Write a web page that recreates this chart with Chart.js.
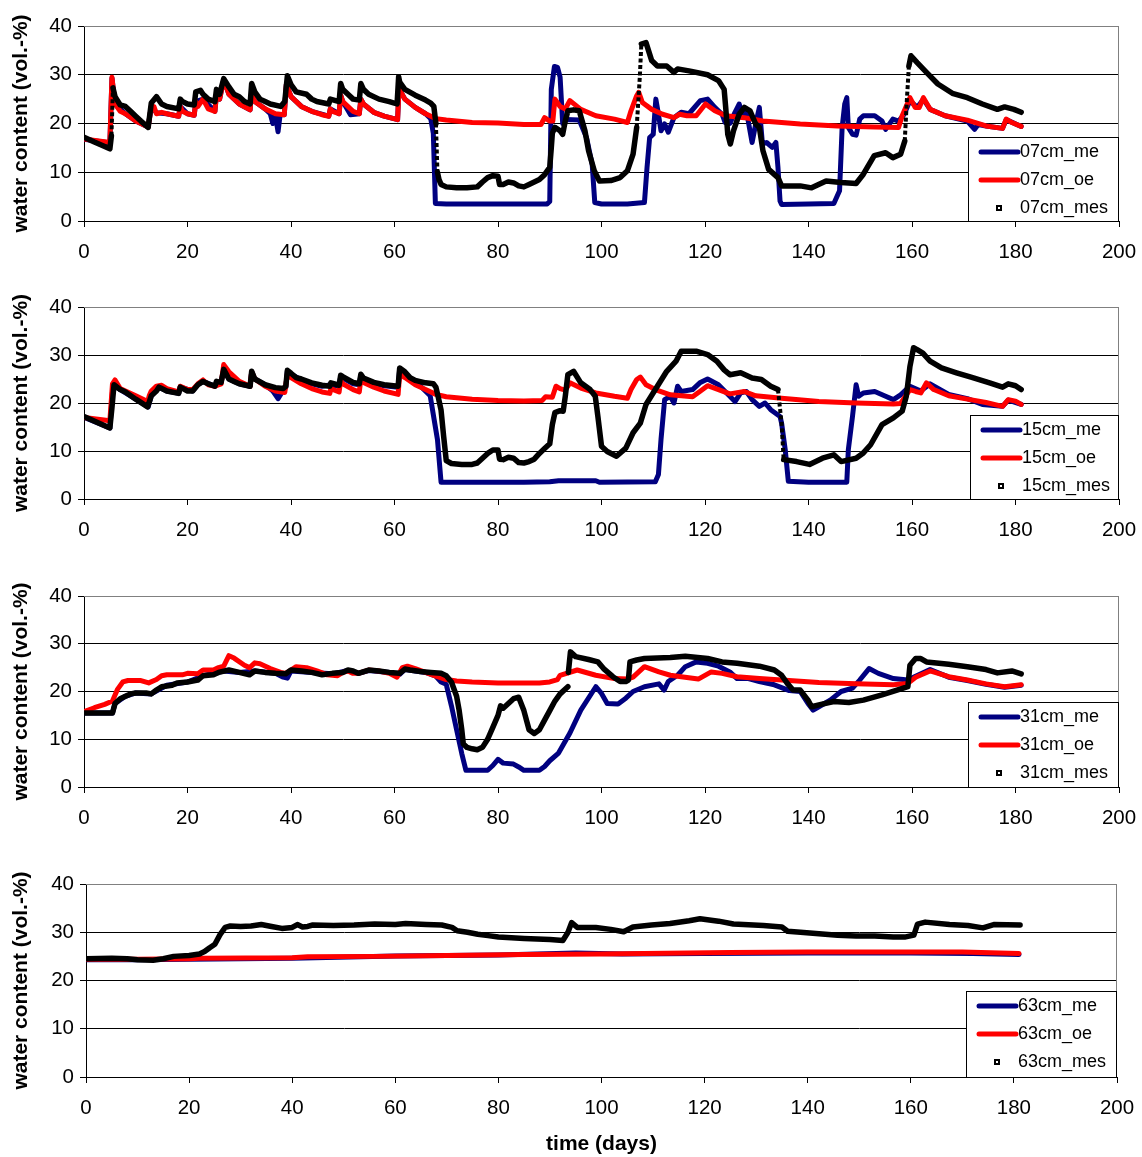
<!DOCTYPE html>
<html>
<head>
<meta charset="utf-8">
<title>water content</title>
<script src="https://cdn.jsdelivr.net/npm/chart.js@4.4.1/dist/chart.umd.min.js"></script>
<style>
  body { margin: 0; background: #fff; }
  canvas { position: absolute; left: 0; }
</style>
</head>
<body>
<canvas id="c07"></canvas>
<canvas id="c15"></canvas>
<canvas id="c31"></canvas>
<canvas id="c63"></canvas>
<script>
// [day, water content] pairs per depth: me = blue, oe = red, mes = measured (black)
const me07 = [[0,16.8],[5,16],[5.4,29.3],[6,24],[8,22],[10,20.5],[12.4,19.3],[13,23.5],[14,22.2],[16,22],[18.3,21.5],[18.6,23.5],[20,22],[21.3,21.7],[21.6,24.5],[23,25],[25.3,22.5],[25.6,26],[26.2,25],[27,29],[28,26],[30,24],[32.1,22.8],[32.4,26.5],[33,24.5],[35,23],[36,22],[36.5,20],[37,21.5],[37.5,18.3],[37.9,21.8],[38.7,21.8],[39.1,28],[40,25.5],[42,23.5],[44,22.5],[47.3,21.5],[47.6,23],[49.3,22],[49.6,25.8],[50,24.5],[51.5,21.8],[53.2,22],[53.5,25],[54,24],[56,22.3],[58,21.5],[60.6,20.8],[60.9,28],[61.2,26.5],[62,25],[64,23.3],[66,22],[67,21],[67.5,18],[67.9,3.6],[70,3.5],[80,3.5],[89.5,3.5],[90,4],[90.3,27],[90.9,31.7],[91.5,31.5],[92,29.5],[92.5,20],[93.2,20.8],[95.7,20.7],[97.1,17.1],[98.2,11.6],[98.7,3.8],[100,3.5],[105,3.5],[108.3,3.8],[108.8,11],[109.3,17.1],[110,17.8],[110.5,25],[110.9,22.6],[111.5,18.5],[112.2,19.9],[112.9,18.2],[114,21.2],[115.4,22.3],[116.9,22],[119.1,24.7],[120.5,25],[121.9,23.3],[123.3,21.9],[123.9,20.2],[124.8,20],[125.8,22.3],[126.6,24],[127.3,21.6],[128,22.6],[129.1,16.1],[129.8,19.9],[130.5,23.3],[131.1,15.8],[131.9,16.1],[133,15.1],[133.7,16.1],[134.1,11],[134.5,4.1],[134.8,3.4],[140,3.5],[144.9,3.6],[146,6.2],[146.5,19.2],[147,24],[147.4,25.3],[147.7,19.2],[148.5,17.8],[149.2,17.6],[149.9,20.9],[150.6,21.6],[152.8,21.6],[154.2,20.5],[154.9,18.8],[156.3,20.9],[157.4,20.5],[158.5,21.9],[159.6,24.7],[161,23.3],[162.2,25],[163.5,22.9],[166.4,21.6],[170.7,20.5],[172.1,18.8],[172.8,19.8],[174.3,19.5],[177.5,19],[178.2,20.8],[181.1,19.4]];
const oe07 = [[0,16.8],[5,16.1],[5.4,29.5],[6,24],[7,22.5],[8,22],[10,20.5],[12.4,19.3],[13,23.5],[13.5,23.5],[14,22],[15,22.3],[16,22],[18.3,21.5],[18.6,23.5],[19,22.5],[20,22],[21.3,21.7],[21.6,24.5],[22,23.5],[23,25],[24,23],[25.3,22.5],[25.6,26],[26.2,25],[27,29],[28,26],[30,24],[32.1,22.8],[32.4,26.5],[33,24.5],[35,23],[37,22],[38.7,21.8],[39.1,28],[40,25.5],[42,23.5],[44,22.5],[46,21.8],[47.3,21.5],[47.6,23],[48,22.5],[49.3,22],[49.6,25.8],[50,24.5],[52,22.5],[53.2,22],[53.5,25],[54,24],[56,22.3],[58,21.5],[60.6,20.8],[60.9,28],[61.2,26.5],[62,25],[64,23.3],[66,22],[68,21],[70,20.7],[75,20.2],[80,20.1],[85,19.8],[88.3,19.8],[89,21.2],[90,20.5],[90.6,20.5],[91,25],[92,23.5],[93,23],[93.9,24.7],[96,22.9],[98.9,21.6],[102.5,20.9],[105,20.2],[105.7,22.6],[106.8,25.7],[107.2,26.4],[107.9,24.3],[109.7,22.9],[111.8,21.9],[114,21.2],[115.1,21.9],[116.5,21.6],[118.3,21.6],[120.1,24],[121.9,22.6],[124,21.6],[127.6,21.2],[131.2,20.5],[138.4,19.9],[145.6,19.5],[152.8,19.3],[157.4,19.2],[158.1,21.6],[159.6,25.3],[160.6,23.3],[161.4,23.3],[162.2,25.3],[163.5,22.9],[166.4,21.6],[170.7,20.7],[174.3,19.5],[177.5,19],[178.2,20.9],[179.3,20.2],[181.1,19.4]];
const mes07 = [[0,17.2],[2,16.2],[4,15.3],[5,14.8],[5.3,17.5],[5.6,27.3],[6,25.5],[7,23.8],[8,23.5],[9,22.5],[10,21.5],[11,20.5],[12.4,19.2],[13,24.2],[14,25.5],[15,24],[16,23.5],[18.3,23],[18.6,25],[19,24.5],[20,24],[21.3,23.8],[21.6,26.5],[22.5,26.8],[23,26],[24,25],[25.3,24.5],[25.6,27],[26.2,26],[27,29.2],[28,27.5],[29,26],[30,25.5],[31,24.5],[32.1,24],[32.4,28.2],[33,26.5],[34,25],[35,24.5],[36,24],[38,23.5],[38.8,24.5],[39.3,29.8],[40,28],[41,26.5],[43,26],[44,25],[45,24.5],[47.3,24],[47.6,25],[49.3,24.5],[49.6,28.2],[50,27],[51,26],[52,25],[53.2,24.8],[53.5,28.2],[54,27],[55,26],[57,25],[59,24.5],[60.5,24],[60.8,29.6],[61,28.5],[62,27],[64,25.8],[66,24.8],[67,24.2],[67.6,23.5],[68,20],[68.3,10],[68.6,8.5],[69,7.5],[70,7],[72,6.8],[74,6.8],[76,7],[77,8],[78,8.9],[79,9.3],[80,9.2],[80.3,7.5],[81,7.5],[82,8],[83,7.8],[84,7.2],[85,7],[86,7.5],[87,8],[88,8.5],[89,9.5],[90,11],[90.3,15],[90.5,18],[91,19.2],[92,18.5],[92.5,17.8],[93,20.5],[93.5,22.6],[94.6,22.8],[95.7,22.6],[96.8,18.5],[97.5,14.4],[98.6,10.3],[99.6,8.2],[101.8,8.3],[103.6,8.9],[105,10.3],[106.1,13.7],[106.8,19.2],[107.4,29.5],[107.7,36.3],[108.6,36.6],[109.7,32.9],[110.8,31.8],[112.6,31.8],[114,30.5],[114.7,31.2],[116.9,30.8],[120.5,30],[122.6,28.8],[123.7,27],[124,23.3],[124.4,17.8],[124.9,15.8],[125.5,18.5],[126.6,21.9],[127.6,23.3],[128.7,22.6],[129.8,19.9],[130.5,19.2],[131.2,14.4],[132.3,10.6],[134.1,8.9],[134.8,7.2],[138.4,7.2],[140.6,6.8],[143.4,8.2],[146.3,7.9],[149.2,7.7],[150.6,9.6],[152.7,13.4],[154.9,14],[156.3,13],[157.8,13.7],[158.6,16.4],[159,24.7],[159.4,31.8],[159.8,33.9],[161,32.5],[162.8,30.5],[165,28.1],[167.8,26.2],[170.7,25.3],[173.6,24],[176.5,22.9],[177.9,23.4],[179.7,22.9],[181.1,22.3]];

const me15 = [[0,17],[5,14.8],[5.6,23.8],[7,22.8],[10,20.8],[12.4,19.2],[13,21.5],[14.5,23.3],[16,22.5],[18.3,22],[18.6,23.3],[21,22.5],[22,23.8],[23,24.5],[25.3,23.5],[26.5,24.3],[27,27],[28,25],[30,24],[32.1,23.5],[32.4,26.5],[33,25],[35,23.8],[36.5,22.5],[37.5,20.9],[38.3,22.3],[39,23.3],[39.3,26.6],[40,26],[42,24.8],[44,24],[46,23.5],[47.7,23.8],[49.3,23.5],[49.6,25.5],[50,25.2],[52,24],[53.2,23.8],[53.5,25.8],[54,25],[56,24.1],[58,23.6],[60.7,23.3],[61,27.1],[62,26.3],[63,25.2],[64,24.6],[66.9,21.5],[68.3,12.4],[69,3.5],[75,3.5],[80,3.5],[85,3.5],[90,3.6],[91.7,3.8],[98.9,3.8],[99.6,3.5],[110.4,3.6],[111,5.1],[111.5,12.4],[112.2,20.7],[113.3,21.4],[114,20],[114.7,23.5],[115.4,22.4],[117.6,22.8],[119,24.2],[120.5,25],[122.6,23.8],[124.8,21.4],[125.8,20.3],[126.9,22.1],[128,22.4],[129.1,20.7],[130.5,19.3],[131.6,20],[132.7,18.6],[134.5,17.2],[134.8,15.8],[135.5,10.3],[136.1,3.7],[140,3.5],[147.4,3.5],[147.7,10.3],[148.5,17.2],[149.2,23.8],[149.7,21.4],[150.6,22.1],[152.8,22.4],[154.9,21.4],[156.4,20.7],[157.8,21.7],[159.6,23.5],[161.7,22.5],[163.5,24],[167.1,21.8],[170.7,20.9],[173.6,19.7],[177.5,19.3],[178.6,20.6],[181.1,19.7]];
const oe15 = [[0,17],[5,16.3],[5.5,24],[6,24.8],[7,23],[8,22.5],[10,21.5],[12.3,20.3],[12.6,21.5],[13,22.5],[14,23.5],[15,23.7],[16,23],[18.3,22.3],[18.6,23.5],[20,22.8],[21,22.8],[22,24],[23,24.8],[24,23.8],[25.3,23.5],[26.5,24],[27,28],[28,26.5],[30,24.5],[32.1,23.5],[32.4,26.5],[33,25],[35,23.5],[37,22.5],[38.8,22.2],[39.3,26],[40,25.3],[42,24],[44,23],[46,22.3],[47.5,22],[47.7,23],[49.3,22.3],[49.6,24.7],[50,24],[52,22.8],[53.2,22.3],[53.5,25],[54,24.3],[56,23.3],[58,22.5],[60.7,21.8],[61,26],[62,25.3],[64,23.8],[66,22.8],[68,21.8],[70,21.3],[75,20.8],[80,20.5],[85,20.4],[88.5,20.5],[89.2,21.3],[90.5,21.2],[91.2,23.5],[92,23],[93,22.7],[93.9,24.2],[96,23.1],[98.9,22.1],[102.5,21.4],[105,21],[105.7,22.8],[106.8,24.9],[107.5,25.4],[108.6,23.8],[110.4,22.8],[113.3,21.7],[117.6,21.3],[119,22.4],[120.5,23.6],[122.6,22.8],[124.8,21.9],[127.6,22.4],[129.8,21.5],[134.8,21],[142,20.3],[149.2,20],[156.4,19.8],[157.8,19.9],[159.6,22.8],[160.7,22.4],[161.7,22.1],[162.8,24.2],[164.2,22.8],[167.1,21.5],[170.7,20.8],[174.3,20.1],[177.5,19.3],[178.6,20.7],[180,20.4],[181.1,19.7]];
const mes15 = [[0,17.2],[2.5,16],[5,14.8],[5.4,19],[5.8,23.8],[7,22.8],[8,22.3],[10,20.8],[12.3,19.2],[13,21.5],[14,22.5],[14.5,23.3],[16,22.5],[18.3,22],[18.6,23.3],[20,22.5],[21,22.5],[22,23.8],[23,24.5],[24,24],[25.3,23.5],[25.6,24.5],[26.5,24.3],[27,27],[28,25],[29,24.5],[30,24],[32.1,23.5],[32.4,26.6],[33,25],[35,23.8],[37,23.2],[38.5,23],[39,23.5],[39.3,26.8],[40,26.2],[41,25.3],[42,25],[44,24.2],[46,23.7],[47.5,23.5],[47.7,24.2],[49.3,23.7],[49.6,25.8],[50,25.5],[52,24.3],[53.2,24],[53.5,26],[54,25.2],[56,24.3],[58,23.8],[60.7,23.5],[61,27.3],[62,26.5],[63,25.3],[64,24.7],[66,24.2],[67.5,24],[68,23.3],[68.5,21],[69,18.5],[69.5,13],[70,8],[71,7.4],[73,7.2],[75,7.2],[76,7.5],[77,8.5],[78,9.5],[79,10.2],[80,10.2],[80.3,8.3],[81,8.2],[82,8.7],[83,8.5],[84,7.6],[85,7.5],[86,7.8],[87,8.3],[88,9.5],[89,10.5],[90,11.5],[90.5,15.5],[91,18],[92,18.4],[92.6,18.3],[93,21.4],[93.5,25.9],[94.6,26.6],[96,24.2],[97.8,22.8],[98.8,21.4],[99.3,17.2],[100,11],[101.1,9.9],[102.9,8.9],[104.7,10.6],[106.1,13.8],[107.5,15.8],[108.6,19.7],[110.4,22.8],[112.6,26.6],[114.4,28.7],[115.4,30.8],[118.3,30.8],[120.5,30.1],[122.3,28.7],[123.7,26.9],[124.8,25.9],[126.9,26.3],[129.1,25.2],[130.9,24.9],[132.7,23.5],[134.1,22.8],[134.8,15.8],[135.2,8.2],[137.7,7.8],[140.2,7.2],[142.7,8.5],[144.9,9.2],[146.3,7.8],[149.2,8.5],[150.6,9.6],[152,11.3],[154.2,15.5],[156.4,16.9],[158.1,18.3],[158.9,21.4],[159.6,27.6],[160.3,31.5],[161,31.1],[162.1,30.4],[163.5,28.7],[165.7,27.3],[168.6,26.3],[171.4,25.4],[175,24.2],[177.5,23.3],[178.6,24],[180,23.6],[181.1,22.8]];

const me31 = [[0,15.5],[5.5,15.5],[6,17.5],[8,19],[10,19.7],[13,19.5],[16,21.3],[20,22],[23,23.3],[27,24.3],[30,24],[33,24.3],[37,23.8],[38.5,23],[39.3,22.8],[40,24.3],[44,24],[48,23.7],[51,24.4],[53,23.8],[55,24.4],[59,24],[61,23.6],[62,24.6],[66,24],[68,23.2],[69,22],[70,21.5],[71,17],[72,12],[73,7],[73.8,3.5],[78,3.5],[79,4.5],[80,5.8],[81,5],[83,4.8],[84,4.2],[85,3.5],[88,3.5],[89,4.3],[90,5.5],[91.7,7.1],[93.9,11.3],[96,16.1],[98.9,21],[100,19.6],[101.1,17.5],[103.2,17.4],[104.7,18.6],[106.1,20],[108.3,21],[111.1,21.6],[112.1,20.3],[112.9,22.1],[114.7,23.4],[116.2,25.2],[118.3,26.2],[120.5,25.9],[122.6,25.3],[124.8,24.1],[126.2,22.7],[128.4,22.7],[130.5,22.1],[133.4,21.4],[136.3,20.2],[138.4,20],[139.9,17.5],[140.9,16.1],[142,16.8],[144.2,18.2],[146.3,20],[148.5,20.7],[149.9,22.4],[151.7,24.8],[153.5,23.8],[156.4,22.7],[159.2,22.4],[160.7,23.2],[163.5,24.6],[167.1,23],[170.7,22.3],[174.3,21.5],[177.9,20.9],[181.1,21.3]];
const oe31 = [[0,15.8],[2,16.6],[4,17.3],[5.5,18],[6.5,20.5],[7.5,22],[8.5,22.3],[11,22.3],[12.5,21.8],[14,22.5],[15,23.3],[16,23.5],[19,23.5],[20,23.8],[22,23.7],[23,24.5],[25,24.5],[26,25],[27,25.3],[28,27.5],[29,27],[31,25.5],[32,25],[33,26],[34,25.8],[36,24.8],[38,24],[39,23.8],[40,24.5],[41,25.2],[43,25],[45,24.3],[47,23.5],[49,23.3],[50,24],[51,24.3],[52,23.8],[53,23.8],[55,24.5],[57,24.3],[59,23.8],[60.5,23],[61.5,25],[62.5,25.3],[64,24.8],[66,24],[68,23.2],[70,22.5],[72,22.2],[75,22],[80,21.8],[85,21.8],[88,21.8],[90,22],[91.5,22.5],[92,23.4],[95.3,24.5],[98.9,23.4],[102.5,22.7],[105,22.6],[106.1,23],[108.3,25.2],[111.1,24.1],[113.3,23.4],[115.4,23.1],[118.7,22.6],[121.2,24.1],[123.3,23.8],[126.2,23.1],[130.5,22.7],[134.8,22.4],[142,21.9],[149.2,21.6],[156.4,21.4],[159.2,21.7],[160.7,23],[163.5,24.3],[167.1,23.1],[170.7,22.4],[174.3,21.6],[177.9,21],[181.1,21.4]];
const mes31 = [[0,15.5],[5.5,15.5],[6,17.5],[7,18.5],[8,19],[9,19.5],[10,19.7],[12,19.7],[13,19.5],[14,20.3],[15,21],[17,21.3],[18,21.8],[20,22],[22,22.4],[23,23.3],[25,23.5],[26,24],[28,24.5],[30,24],[32,23.5],[33,24.3],[35,24],[37,23.8],[39,23.7],[40,24.5],[42,24.3],[44,24],[46,23.5],[48,23.8],[50,24],[51,24.5],[52,24.3],[53,23.8],[55,24.5],[57,24.3],[59,24],[61,23.8],[62,24.7],[63,24.5],[65,24.2],[67,24],[69,23.8],[70,23.3],[71,22],[72,19],[72.5,16],[73,12],[73.3,9],[74,8.3],[75,8],[76,7.8],[77,8.3],[78,10],[79,12.5],[80,15],[80.5,17],[81,16.5],[82,17.5],[83,18.5],[84,18.8],[85,16],[86,12],[87,11.2],[88,12],[89,14],[90,16],[91,18],[92,19.5],[93.5,21],[93.6,null],[93.6,24],[94,28.3],[95,27.3],[97.5,26.7],[99.3,26.2],[100.4,24.8],[102.2,23.1],[103.6,22.1],[104.7,22.1],[105.2,22.4],[105.5,26.2],[106.8,26.6],[108.3,26.9],[113.3,27.1],[116.2,27.4],[120.5,26.9],[123.3,26.2],[126.2,25.9],[130.5,25.3],[133.4,24.5],[134.8,23.4],[135.9,21.7],[137,20.3],[138.4,20.3],[139.9,18.2],[140.6,16.8],[142,17.2],[144.9,17.9],[147.8,17.7],[150.6,18.2],[154.2,19.3],[157.1,20.3],[159.2,21],[159.6,25.5],[160.7,26.9],[161.7,26.9],[162.8,26.2],[167.1,25.7],[170.7,25.2],[174.3,24.6],[176.5,23.9],[179.3,24.3],[181.1,23.7]];

const me63 = [[0,24.3],[10,24.3],[20,24.4],[40,24.6],[60,25.1],[80,25.3],[95,25.7],[104,25.5],[120,25.6],[140,25.7],[160,25.7],[172,25.6],[181,25.4]];
const oe63 = [[0,24.4],[10,24.4],[20,24.5],[22,24.6],[40,24.7],[43,24.9],[56,25],[70,25.2],[85,25.4],[100,25.5],[125,25.8],[140,25.9],[160,25.9],[170,25.9],[181,25.6]];
const mes63 = [[0,24.5],[5,24.6],[8,24.5],[10,24.3],[13,24.2],[15,24.5],[17,25],[20,25.2],[22,25.5],[23,26],[24,26.8],[25,27.5],[26,29.5],[27,31],[28,31.3],[30,31.2],[32,31.3],[34,31.6],[36,31.2],[38,30.8],[40,31],[41,31.6],[42,31.1],[43,31.2],[44,31.5],[48,31.4],[52,31.5],[56,31.7],[60,31.6],[62,31.8],[66,31.6],[69,31.5],[71,31],[72,30.3],[74,30],[76,29.6],[78,29.3],[80,29],[85,28.7],[90,28.5],[92.5,28.3],[93.5,30],[94.2,32],[95.3,31],[98.9,31],[101.8,30.6],[104.3,30.1],[106.1,31.1],[109.7,31.5],[113.3,31.8],[117,32.4],[119.1,32.8],[122.7,32.3],[125.6,31.7],[131.4,31.4],[135,31.1],[136.1,30.2],[138.6,30],[142.2,29.7],[145.8,29.4],[149.4,29.2],[153,29.2],[156.6,29],[158.8,29],[160.6,29.4],[161.3,31.7],[162.8,32.1],[167.5,31.6],[171.1,31.4],[174,30.9],[176.1,31.6],[181.2,31.5]];

const xTicks = { min: 0, max: 200, step: 20 };
const yTicks = { min: 0, max: 40, step: 10 };

const FONT = 'Arial, "Liberation Sans", sans-serif';
Chart.defaults.font.family = FONT;
Chart.defaults.color = '#000';

// measured points are sparse where the reading jumps fast:
// draw only those long, near vertical stretches as a row of dots
function isJump(ctx) {
  const dx = Math.abs(ctx.p1.x - ctx.p0.x);
  const dy = Math.abs(ctx.p1.y - ctx.p0.y);
  return dy > 30 && dy > 5 * dx;
}

// gray frame on the top and right edges of the plot area
const frame = {
  id: 'frame',
  beforeDatasetsDraw(chart) {
    const { ctx, chartArea: a } = chart;
    ctx.save();
    ctx.strokeStyle = '#808080';
    ctx.lineWidth = 1;
    ctx.beginPath();
    ctx.moveTo(a.left, a.top + 0.5);
    ctx.lineTo(a.right - 0.5, a.top + 0.5);
    ctx.lineTo(a.right - 0.5, a.bottom);
    ctx.stroke();
    ctx.restore();
  }
};

// boxed legend sitting in the lower right corner of the plot
const boxLegend = {
  id: 'boxLegend',
  afterDraw(chart, args, opts) {
    const { ctx, chartArea: a } = chart;
    const x = a.right - opts.width;
    const y = a.bottom - opts.height;
    ctx.save();
    ctx.fillStyle = '#fff';
    ctx.fillRect(x, y, opts.width, opts.height);
    ctx.strokeStyle = '#000';
    ctx.lineWidth = 1;
    ctx.strokeRect(x + 0.5, y + 0.5, opts.width - 1, opts.height);
    ctx.font = '18px ' + FONT;
    ctx.textBaseline = 'middle';
    chart.data.datasets.forEach((ds, i) => {
      const cy = y + 15 + i * 28;
      if (ds.marker) {
        ctx.fillStyle = '#000';
        ctx.fillRect(x + 28, cy - 3, 6, 6);
        ctx.fillStyle = '#fff';
        ctx.fillRect(x + 30, cy - 1, 2, 2);
      } else {
        ctx.strokeStyle = ds.borderColor;
        ctx.lineWidth = 5;
        ctx.lineCap = 'round';
        ctx.beginPath();
        ctx.moveTo(x + 13, cy);
        ctx.lineTo(x + 50, cy);
        ctx.stroke();
      }
      ctx.fillStyle = '#000';
      ctx.fillText(ds.label, x + 52, cy);
    });
    ctx.restore();
  }
};

const panels = [
  { id: 'c07', depth: '07cm', me: me07, oe: oe07, mes: mes07, top: 26, bottom: 221, left: 84, right: 1119, legW: 151, legH: 84 },
  { id: 'c15', depth: '15cm', me: me15, oe: oe15, mes: mes15, top: 307, bottom: 499, left: 84, right: 1119, legW: 149, legH: 84 },
  { id: 'c31', depth: '31cm', me: me31, oe: oe31, mes: mes31, top: 596, bottom: 787, left: 84, right: 1119, legW: 151, legH: 85 },
  { id: 'c63', depth: '63cm', me: me63, oe: oe63, mes: mes63, top: 884, bottom: 1077, left: 86, right: 1117, legW: 151, legH: 86 }
];

function makePanel(p, isLast) {
  const canvas = document.getElementById(p.id);
  const padTop = 20;
  const axisH = isLast ? 1157 - p.bottom : 50;
  canvas.width = 1142;
  canvas.height = padTop + (p.bottom - p.top) + axisH;
  canvas.style.top = (p.top - padTop) + 'px';

  new Chart(canvas, {
    type: 'line',
    data: {
      datasets: [
        { label: p.depth + '_me', data: p.me, borderColor: '#000080', borderWidth: 5, order: 3 },
        { label: p.depth + '_oe', data: p.oe, borderColor: '#ff0000', borderWidth: 5, order: 2 },
        {
          label: p.depth + '_mes', data: p.mes, borderColor: '#000', borderWidth: 5.5, order: 1, marker: true,
          segment: {
            borderWidth: ctx => isJump(ctx) ? 4 : undefined,
            borderDash: ctx => isJump(ctx) ? [4, 2.5] : undefined,
            borderCapStyle: ctx => isJump(ctx) ? 'butt' : undefined
          }
        }
      ]
    },
    options: {
      responsive: false,
      animation: false,
      events: [],
      layout: { padding: { top: padTop, right: 1142 - p.right, bottom: 0, left: 0 } },
      elements: {
        point: { radius: 0 },
        line: { tension: 0, borderJoinStyle: 'round', borderCapStyle: 'round' }
      },
      scales: {
        x: {
          type: 'linear',
          min: xTicks.min,
          max: xTicks.max,
          // fixed axis height; end labels may hang into the side margins
          afterFit: s => { s.height = axisH; s.paddingLeft = 0; s.paddingRight = 0; },
          ticks: { stepSize: xTicks.step, padding: 13, maxRotation: 0, autoSkip: false, font: { size: 20.5 } },
          grid: { drawOnChartArea: false, tickLength: 6, tickColor: '#000' },
          border: { color: '#000' },
          title: {
            display: isLast,
            text: 'time (days)',
            font: { size: 21, weight: 'bold' },
            padding: { top: 0, bottom: 0 }
          }
        },
        y: {
          min: yTicks.min,
          max: yTicks.max,
          afterFit: s => { s.width = p.left; },
          ticks: { stepSize: yTicks.step, padding: 6, font: { size: 20.5 } },
          grid: {
            color: c => (c.tick && c.tick.value === yTicks.max) ? '#808080' : '#000',
            tickLength: 6,
            tickColor: '#000'
          },
          border: { color: '#000' },
          title: {
            display: true,
            text: 'water content (vol.-%)',
            font: { size: 21, weight: 'bold' },
            padding: { top: 9, bottom: 0 }
          }
        }
      },
      plugins: {
        legend: { display: false },
        tooltip: { enabled: false },
        boxLegend: { width: p.legW, height: p.legH }
      }
    },
    plugins: [frame, boxLegend]
  });
}

panels.forEach((p, i) => makePanel(p, i === panels.length - 1));
</script>
</body>
</html>
